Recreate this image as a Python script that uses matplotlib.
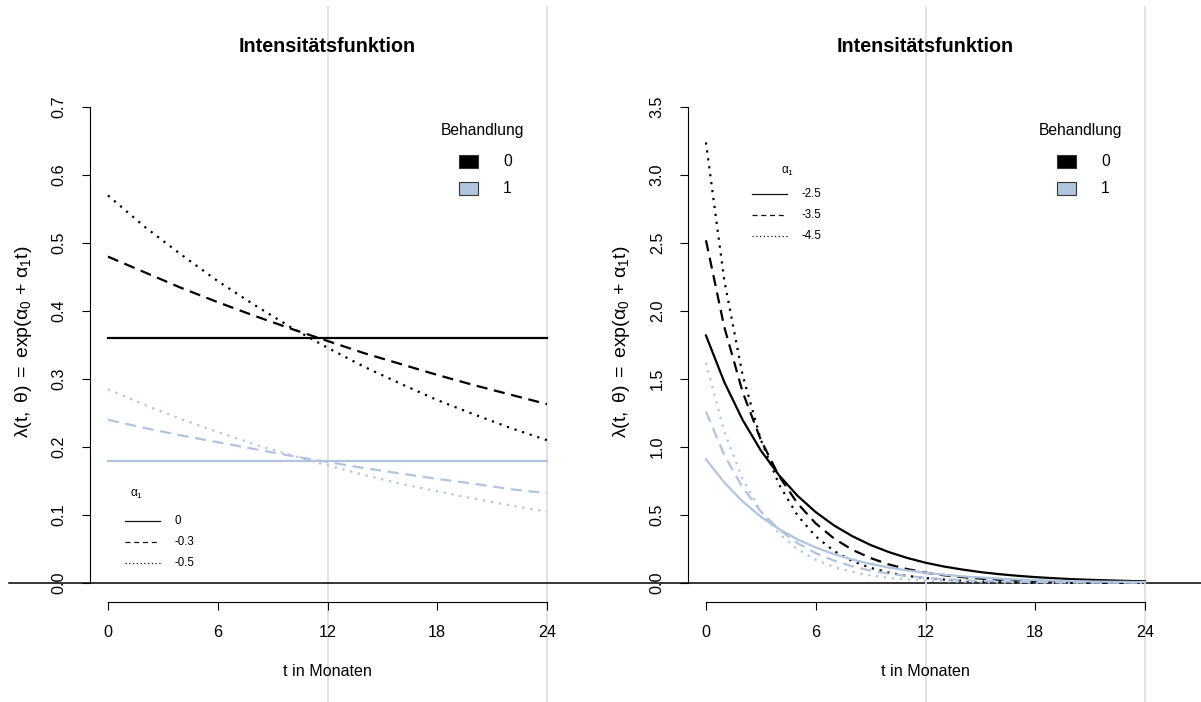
import matplotlib
matplotlib.use('Agg')
import matplotlib.pyplot as plt
from matplotlib.transforms import blended_transform_factory as btf
from matplotlib.patches import Rectangle
from matplotlib.lines import Line2D

plt.rcParams['font.family'] = ['Liberation Sans', 'DejaVu Sans']
plt.rcParams['mathtext.fontset'] = 'custom'
plt.rcParams['mathtext.rm'] = 'Liberation Sans'
plt.rcParams['mathtext.it'] = 'Liberation Sans'
plt.rcParams['mathtext.bf'] = 'Liberation Sans:bold'

# ---------------- data ----------------
groups = ['0', '1']
group_colors = ['#000000', '#B0C4DE']

alpha_left = ['0', '-0.3', '-0.5']
alpha_right = ['-2.5', '-3.5', '-4.5']

t_left = [0, 2, 4, 6, 8, 10, 12, 14, 16, 18, 20, 22, 24]
left_g0_a0 = [0.360] * 13
left_g0_a1 = [0.480, 0.457, 0.434, 0.413, 0.393, 0.374, 0.356, 0.338, 0.322, 0.306, 0.291, 0.277, 0.263]
left_g0_a2 = [0.570, 0.524, 0.483, 0.444, 0.409, 0.376, 0.346, 0.318, 0.293, 0.269, 0.248, 0.228, 0.210]
left_g1_a0 = [0.180] * 13
left_g1_a1 = [0.240, 0.228, 0.217, 0.207, 0.197, 0.187, 0.178, 0.169, 0.161, 0.153, 0.146, 0.138, 0.132]
left_g1_a2 = [0.285, 0.262, 0.241, 0.222, 0.204, 0.188, 0.173, 0.159, 0.146, 0.135, 0.124, 0.114, 0.105]

t_right = list(range(0, 25))
right_g0_a0 = [1.820, 1.478, 1.200, 0.974, 0.791, 0.642, 0.521, 0.423, 0.344, 0.279, 0.227, 0.184, 0.149,
               0.121, 0.099, 0.080, 0.065, 0.053, 0.043, 0.035, 0.028, 0.023, 0.019, 0.015, 0.012]
right_g0_a1 = [2.520, 1.883, 1.406, 1.051, 0.785, 0.586, 0.438, 0.327, 0.244, 0.183, 0.136, 0.102, 0.076,
               0.057, 0.043, 0.032, 0.024, 0.018, 0.013, 0.010, 0.007, 0.006, 0.004, 0.003, 0.002]
right_g0_a2 = [3.240, 2.227, 1.531, 1.052, 0.723, 0.497, 0.342, 0.235, 0.161, 0.111, 0.076, 0.052, 0.036,
               0.025, 0.017, 0.012, 0.008, 0.006, 0.004, 0.003, 0.002, 0.001, 0.001, 0.001, 0.000]
right_g1_a0 = [0.910, 0.739, 0.600, 0.487, 0.396, 0.321, 0.261, 0.212, 0.172, 0.140, 0.113, 0.092, 0.075,
               0.061, 0.049, 0.040, 0.032, 0.026, 0.021, 0.017, 0.014, 0.011, 0.009, 0.008, 0.006]
right_g1_a1 = [1.260, 0.941, 0.703, 0.525, 0.392, 0.293, 0.219, 0.164, 0.122, 0.091, 0.068, 0.051, 0.038,
               0.028, 0.021, 0.016, 0.012, 0.009, 0.007, 0.005, 0.004, 0.003, 0.002, 0.002, 0.001]
right_g1_a2 = [1.620, 1.113, 0.765, 0.526, 0.362, 0.248, 0.171, 0.117, 0.081, 0.055, 0.038, 0.026, 0.018,
               0.012, 0.008, 0.006, 0.004, 0.003, 0.002, 0.001, 0.001, 0.001, 0.000, 0.000, 0.000]

x_ticks = [0, 6, 12, 18, 24]
y_ticks_left = [0.0, 0.1, 0.2, 0.3, 0.4, 0.5, 0.6, 0.7]
y_ticks_right = [0.0, 0.5, 1.0, 1.5, 2.0, 2.5, 3.0, 3.5]
ref_lines = [12, 24]

title = 'Intensitätsfunktion'
xlabel = 't in Monaten'
ylabel = (r'$\lambda(\mathrm{t},\hspace{0.3}\theta)\hspace{0.3}=\hspace{0.3}'
          r'\mathrm{exp}(\alpha_0\hspace{0.15}+\hspace{0.15}\alpha_1\mathrm{t})$')

# ---------------- figure ----------------
W, H = 1201, 702
fig = plt.figure(figsize=(W / 100, H / 100), dpi=100)


def fx(px):
    return px / W


def fy(py):
    return 1 - py / H


BASE = 11.6
LW = 1.6
styles = [dict(linestyle='-'),
          dict(linestyle=(0, (5, 3))),
          dict(linestyle=(0, (1, 2.6)))]
legend_styles = ['-', (0, (4, 3)), (0, (1, 2))]


def make_panel(left_px, ylim_top, yticks, t, series, alpha_labels, leg_x0, leg_head, leg_ys, leg_hx):
    ax = fig.add_axes([fx(left_px), fy(602), 474.2 / W, 514 / H])
    ax.patch.set_visible(False)
    pad = 0.04
    ax.set_xlim(-24 * pad, 24 * (1 + pad))
    ax.set_ylim(-ylim_top * pad, ylim_top * (1 + pad))
    for s in ['top', 'right']:
        ax.spines[s].set_visible(False)
    ax.spines['left'].set_bounds(yticks[0], yticks[-1])
    ax.spines['bottom'].set_bounds(x_ticks[0], x_ticks[-1])
    for s in ['left', 'bottom']:
        ax.spines[s].set_linewidth(0.8)
    ax.set_xticks(x_ticks)
    ax.set_xticklabels([str(v) for v in x_ticks])
    ax.set_yticks(yticks)
    ax.set_yticklabels([f'{v:.1f}' for v in yticks])
    ax.tick_params(axis='both', direction='out', length=6, width=0.8, labelsize=BASE)
    ax.tick_params(axis='x', pad=10.5)
    ax.tick_params(axis='y', pad=11)
    plt.setp(ax.get_yticklabels(), rotation=90, va='center')

    # reference vertical lines spanning the full figure height
    tr = btf(ax.transData, fig.transFigure)
    for xv in ref_lines:
        ax.plot([xv, xv], [0, fy(7)], transform=tr, color='#E0E0E0', lw=1.3,
                clip_on=False, zorder=0)

    # curves
    for gi, color in enumerate(group_colors):
        for ai in range(3):
            ax.plot(t, series[gi][ai], color=color, lw=LW, clip_on=False, zorder=2,
                    **styles[ai])

    cx = left_px + 474.2 / 2
    fig.text(fx(cx), fy(47), title, ha='center', va='center', size=14.2, weight='bold')
    fig.text(fx(cx), fy(671), xlabel, ha='center', va='center', size=BASE)
    fig.text(fx(left_px - 67), fy(342), ylabel, ha='center', va='center', size=14.0,
             rotation=90)

    # Behandlung legend
    off = left_px - 90.4
    fig.text(fx(441 + off), fy(130), 'Behandlung', ha='left', va='center', size=BASE * 0.97)
    for y0, c, lab in zip([155, 182], group_colors, groups):
        fig.patches.append(Rectangle((fx(459 + off), fy(y0 + 13)), 19 / W, 13 / H,
                                     transform=fig.transFigure, facecolor=c,
                                     edgecolor='#333333', lw=0.8))
        fig.text(fx(503 + off), fy(y0 + 6.5), lab, ha='left', va='center', size=BASE * 0.97)

    # alpha_1 legend
    fig.text(fx(leg_hx), fy(leg_head), r'$\alpha_1$', ha='center', va='center', size=8.5)
    for y, ls, lab in zip(leg_ys, legend_styles, alpha_labels):
        fig.add_artist(Line2D([fx(leg_x0), fx(leg_x0 + 35)], [fy(y), fy(y)],
                              transform=fig.transFigure, color='#111111', lw=0.9,
                              linestyle=ls))
        fig.text(fx(leg_x0 + 50), fy(y), lab, ha='left', va='center', size=8.3)
    return ax


axL = make_panel(90.4, 0.7, y_ticks_left, t_left,
                 [[left_g0_a0, left_g0_a1, left_g0_a2], [left_g1_a0, left_g1_a1, left_g1_a2]],
                 alpha_left, 125, 494, [521, 542, 563], 137)
axR = make_panel(688.4, 3.5, y_ticks_right, t_right,
                 [[right_g0_a0, right_g0_a1, right_g0_a2], [right_g1_a0, right_g1_a1, right_g1_a2]],
                 alpha_right, 752, 171, [194, 215, 236], 788)

# horizontal zero line across the figure
axL.plot([fx(9), 1.0], [0, 0], transform=btf(fig.transFigure, axL.transData),
         color='black', lw=1.1, clip_on=False, zorder=1)

fig.savefig('out.png', dpi=100)
